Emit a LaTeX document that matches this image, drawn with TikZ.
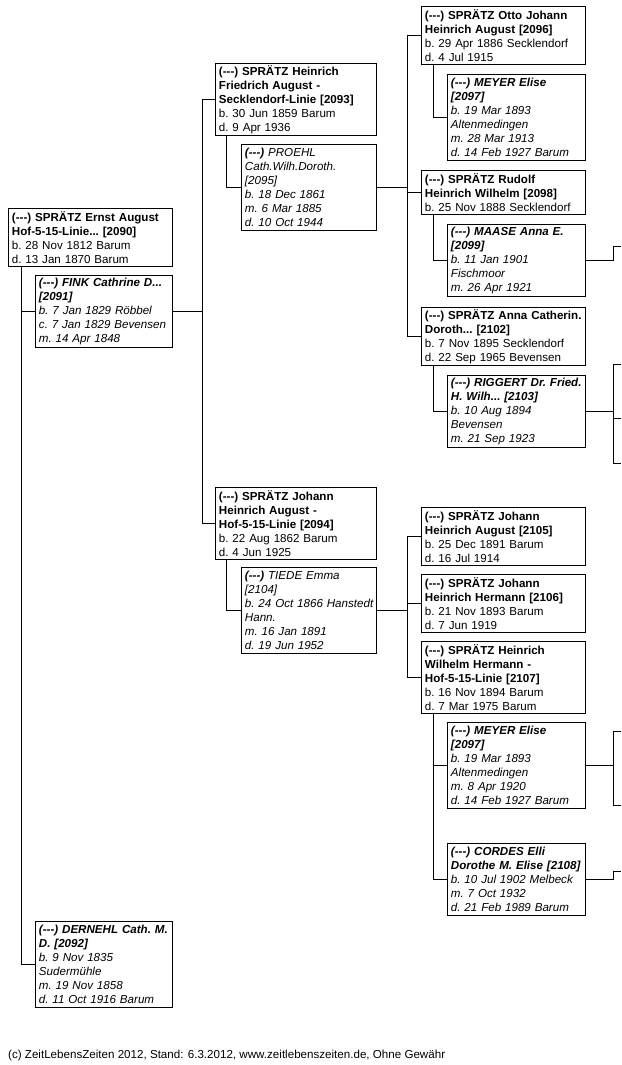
\documentclass[tikz,border=0pt]{standalone}
\usepackage{fontspec}
\setmainfont{Liberation Sans}
\usetikzlibrary{calc,positioning}
\definecolor{ink}{HTML}{000000}
\definecolor{frame}{HTML}{000000}
\newcommand\unk{(-{}-{}-)}
\tikzset{
  person/.style={draw=frame,line width=0.9pt,fill=white,anchor=north west,align=left,
    inner xsep=3.5pt,inner ysep=0pt,minimum height=#1*14pt+2pt,text=ink,
    font=\fontsize{11.6}{14}\selectfont\frenchspacing},
  mainbox/.style={person=#1},
  spousebox/.style={person=#1,font=\fontsize{11.6}{14}\selectfont\frenchspacing\itshape},
  link/.style={line width=0.9pt,draw=frame}
}
\begin{document}
\begin{tikzpicture}[x=1pt,y=-1pt]
  \useasboundingbox (0,0) rectangle (621,1065);

  % generation 1
  \node[mainbox=4,text width=157pt] (p2090) at (8,208) {\bfseries \unk{} SPRÄTZ Ernst August\\Hof-5-15-Linie... [2090]\\\mdseries b. 28 Nov 1812 Barum\\d. 13 Jan 1870 Barum};
  \node[spousebox=5,text width=130pt] (p2091) at (35,275) {\bfseries \unk{} FINK Cathrine D...\\{[2091]}\\\mdseries b. 7 Jan 1829 Röbbel\\c. 7 Jan 1829 Bevensen\\m. 14 Apr 1848};
  \node[spousebox=6,text width=130pt] (p2092) at (35,921) {\bfseries \unk{} DERNEHL Cath. M.\\D. [2092]\\\mdseries b. 9 Nov 1835\\Sudermühle\\m. 19 Nov 1858\\d. 11 Oct 1916 Barum};

  % generation 2
  \node[mainbox=5,text width=154pt] (p2093) at (215,63) {\bfseries \unk{} SPRÄTZ Heinrich\\Friedrich August -\\Secklendorf-Linie [2093]\\\mdseries b. 30 Jun 1859 Barum\\d. 9 Apr 1936};
  \node[spousebox=6,text width=128pt] (p2095) at (241,144) {\bfseries \unk{} \mdseries PROEHL\\Cath.Wilh.Doroth.\\{[2095]}\\b. 18 Dec 1861\\m. 6 Mar 1885\\d. 10 Oct 1944};
  \node[mainbox=5,text width=154pt] (p2094) at (215,487) {\bfseries \unk{} SPRÄTZ Johann\\Heinrich August -\\Hof-5-15-Linie [2094]\\\mdseries b. 22 Aug 1862 Barum\\d. 4 Jun 1925};
  \node[spousebox=6,text width=128pt] (p2104) at (241,567) {\bfseries \unk{} \mdseries TIEDE Emma\\{[2104]}\\\mbox{b. 24 Oct 1866 Hanstedt}\\Hann.\\m. 16 Jan 1891\\d. 19 Jun 1952};

  % generation 3, line Secklendorf
  \node[mainbox=4,text width=157pt] (p2096) at (421,6) {\bfseries \unk{} SPRÄTZ Otto Johann\\Heinrich August [2096]\\\mdseries b. 29 Apr 1886 Secklendorf\\d. 4 Jul 1915};
  \node[spousebox=6,text width=131pt] (p2097) at (447,74) {\bfseries \unk{} MEYER Elise\\{[2097]}\\\mdseries b. 19 Mar 1893\\Altenmedingen\\m. 28 Mar 1913\\d. 14 Feb 1927 Barum};
  \node[mainbox=3,text width=157pt] (p2098) at (421,170) {\bfseries \unk{} SPRÄTZ Rudolf\\Heinrich Wilhelm [2098]\\\mdseries b. 25 Nov 1888 Secklendorf};
  \node[spousebox=5,text width=131pt] (p2099) at (447,224) {\bfseries \unk{} MAASE Anna E.\\{[2099]}\\\mdseries b. 11 Jan 1901\\Fischmoor\\m. 26 Apr 1921};
  \node[mainbox=4,text width=157pt] (p2102) at (421,307) {\bfseries \unk{} SPRÄTZ Anna Catherin.\\Doroth... [2102]\\\mdseries b. 7 Nov 1895 Secklendorf\\d. 22 Sep 1965 Bevensen};
  \node[spousebox=5,text width=131pt] (p2103) at (447,375) {\bfseries \mbox{\unk{} RIGGERT Dr. Fried.}\\H. Wilh... [2103]\\\mdseries b. 10 Aug 1894\\Bevensen\\m. 21 Sep 1923};

  % generation 3, line Hof-5-15
  \node[mainbox=4,text width=157pt] (p2105) at (421,507) {\bfseries \unk{} SPRÄTZ Johann\\Heinrich August [2105]\\\mdseries b. 25 Dec 1891 Barum\\d. 16 Jul 1914};
  \node[mainbox=4,text width=157pt] (p2106) at (421,574) {\bfseries \unk{} SPRÄTZ Johann\\Heinrich Hermann [2106]\\\mdseries b. 21 Nov 1893 Barum\\d. 7 Jun 1919};
  \node[mainbox=5,text width=157pt] (p2107) at (421,641) {\bfseries \unk{} SPRÄTZ Heinrich\\Wilhelm Hermann -\\Hof-5-15-Linie [2107]\\\mdseries b. 16 Nov 1894 Barum\\d. 7 Mar 1975 Barum};
  \node[spousebox=6,text width=131pt] (p2097b) at (447,722) {\bfseries \unk{} MEYER Elise\\{[2097]}\\\mdseries b. 19 Mar 1893\\Altenmedingen\\m. 8 Apr 1920\\d. 14 Feb 1927 Barum};
  \node[spousebox=5,text width=131pt] (p2108) at (447,843) {\bfseries \unk{} CORDES Elli\\\mbox{Dorothe M. Elise [2108]}\\\mdseries b. 10 Jul 1902 Melbeck\\m. 7 Oct 1932\\d. 21 Feb 1989 Barum};

  \node[anchor=base west,inner sep=0pt,font=\fontsize{11.6}{14}\selectfont] (foot) at (8,1058) {(c) ZeitLebensZeiten 2012, Stand: 6.3.2012, www.zeitlebenszeiten.de, Ohne Gewähr};

  % spouse links
  \coordinate (s2090) at ($(p2090.south west)+(13,0)$);
  \coordinate (s2093) at ($(p2093.south west)+(11,0)$);
  \coordinate (s2094) at ($(p2094.south west)+(11,0)$);
  \coordinate (s2096) at ($(p2096.south west)+(12,0)$);
  \coordinate (s2098) at ($(p2098.south west)+(12,0)$);
  \coordinate (s2102) at ($(p2102.south west)+(12,0)$);
  \coordinate (s2107) at ($(p2107.south west)+(12,0)$);
  \draw[link] (s2090) |- (p2092.west);
  \draw[link] (p2091.west) -- (p2091.west -| s2090);
  \draw[link] (s2093) |- (p2095.west);
  \draw[link] (s2094) |- (p2104.west);
  \draw[link] (s2096) |- (p2097.west);
  \draw[link] (s2098) |- (p2099.west);
  \draw[link] (s2102) |- (p2103.west);
  \draw[link] (s2107) |- (p2108.west);
  \draw[link] (p2097b.west) -- (p2097b.west -| s2107);

  % child buses
  \coordinate (b2091) at ($(p2091.east)+(30,0)$);
  \coordinate (b2095) at ($(p2095.east)+(31,0)$);
  \coordinate (b2104) at ($(p2104.east)+(31,0)$);
  \draw[link] (p2091.east) -- (b2091);
  \draw[link] (p2093.west) -| (b2091) |- (p2094.west);
  \draw[link] (p2095.east) -- (b2095);
  \draw[link] (p2096.west) -| (b2095) |- (p2102.west);
  \draw[link] (p2098.west) -| (b2095);
  \draw[link] (p2104.east) -- (b2104);
  \draw[link] (p2105.west) -| (b2104) |- (p2107.west);
  \draw[link] (p2106.west) -| (b2104);

  % links leaving the page
  \coordinate (k2099) at (613,246);
  \coordinate (e2099) at (621,246);
  \draw[link] (p2099.east) -| (k2099) -- (e2099);
  \coordinate (k2103) at (613,463);
  \coordinate (e2103a) at (621,364);
  \coordinate (e2103b) at (621,418);
  \coordinate (e2103c) at (621,463);
  \draw[link] (e2103a) -| (k2103) -- (e2103c);
  \draw[link] (e2103b) -- (e2103b -| k2103);
  \draw[link] (p2103.east) -- (p2103.east -| k2103);
  \coordinate (k2097b) at (613,805);
  \coordinate (e2097ba) at (621,731);
  \coordinate (e2097bb) at (621,805);
  \draw[link] (e2097ba) -| (k2097b) -- (e2097bb);
  \draw[link] (p2097b.east) -- (p2097b.east -| k2097b);
  \coordinate (k2108) at (613,871);
  \coordinate (e2108) at (621,871);
  \draw[link] (p2108.east) -| (k2108) -- (e2108);
\end{tikzpicture}
\end{document}
